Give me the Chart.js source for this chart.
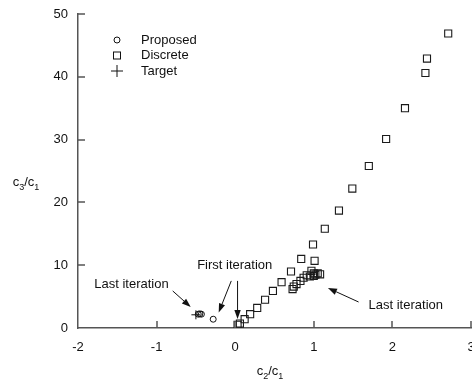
<!DOCTYPE html>
<html><head><meta charset="utf-8">
<script src="https://cdn.jsdelivr.net/npm/chart.js@4.4.1/dist/chart.umd.min.js"></script>
<style>html,body{margin:0;padding:0;background:#fff}#wrap{width:472px;height:382px}</style>
</head><body><div id="wrap"><canvas id="c" width="472" height="382"></canvas></div>
<script>
// ---- data ----
const xTicks = [-2, -1, 0, 1, 2, 3];
const yTicks = [0, 10, 20, 30, 40, 50];
const proposedX = [-0.47, -0.45, -0.43, -0.28];
const proposedY = [2.2, 2.25, 2.2, 1.4];
const discreteX = [0.03, 0.06, 0.12, 0.19, 0.28, 0.38, 0.48, 0.59, 0.71, 0.84, 0.99, 1.14, 1.32, 1.49, 1.70, 1.92, 2.16, 2.42, 2.44, 2.71,
                   1.01, 0.73, 0.745, 0.78, 0.83, 0.87, 0.91, 0.95, 0.97, 1.00, 1.02, 1.08, 1.00, 1.05];
const discreteY = [0.5, 0.7, 1.4, 2.2, 3.2, 4.5, 5.9, 7.3, 9.0, 11.0, 13.3, 15.8, 18.7, 22.2, 25.8, 30.1, 35.0, 40.6, 42.9, 46.9,
                   10.7, 6.2, 6.6, 7.0, 7.5, 8.0, 8.4, 8.2, 9.1, 8.7, 8.5, 8.55, 8.3, 8.7];
const targetX = [-0.5];
const targetY = [2.1];
const legendLabels = ['Proposed', 'Discrete', 'Target'];
// annotations: text anchor and arrows in data units
const notes = [
  {text: 'Last iteration', x: -1.32, y: 7.0, arrows: [[-0.795, 5.9, -0.566, 3.34]]},
  {text: 'First iteration', x: -0.006, y: 10.0, arrows: [[-0.05, 7.5, -0.21, 2.47], [0.03, 7.5, 0.03, 1.43]]},
  {text: 'Last iteration', x: 2.17, y: 3.66, arrows: [[1.57, 4.14, 1.18, 6.37]]}
];

const pts = (xs, ys) => xs.map((x, i) => ({x, y: ys[i]}));
const FONT = '13px "Liberation Sans", Arial, sans-serif';
const SUB = '9px "Liberation Sans", Arial, sans-serif';

function drawSubText(ctx, x, y, parts) {
  ctx.textBaseline = 'middle';
  ctx.textAlign = 'left';
  let total = 0;
  parts.forEach(([t, s]) => { ctx.font = s ? SUB : FONT; total += ctx.measureText(t).width; });
  let cx = x - total / 2;
  parts.forEach(([t, s]) => {
    ctx.font = s ? SUB : FONT;
    ctx.fillText(t, cx, s ? y + 6 : y);
    cx += ctx.measureText(t).width;
  });
}

function arrow(ctx, x1, y1, x2, y2) {
  const ang = Math.atan2(y2 - y1, x2 - x1);
  const hl = 9, hw = 3.2;
  const bx = x2 - hl * Math.cos(ang), by = y2 - hl * Math.sin(ang);
  ctx.beginPath(); ctx.moveTo(x1, y1); ctx.lineTo(bx, by); ctx.lineWidth = 1; ctx.stroke();
  ctx.beginPath();
  ctx.moveTo(x2, y2);
  ctx.lineTo(bx + hw * Math.sin(ang), by - hw * Math.cos(ang));
  ctx.lineTo(bx - hw * Math.sin(ang), by + hw * Math.cos(ang));
  ctx.closePath(); ctx.fill();
}

const extras = {
  id: 'extras',
  afterDraw(chart) {
    const {ctx, scales: {x, y}, chartArea: a} = chart;
    ctx.save();
    // inward ticks
    ctx.strokeStyle = '#555'; ctx.lineWidth = 1.5;
    xTicks.forEach(v => { const px = Math.round(x.getPixelForValue(v)); if (v === xTicks[0]) return;
      ctx.beginPath(); ctx.moveTo(px, a.bottom); ctx.lineTo(px, a.bottom - 7); ctx.stroke(); });
    yTicks.forEach(v => { const py = Math.round(y.getPixelForValue(v)); if (v === yTicks[0]) return;
      ctx.beginPath(); ctx.moveTo(a.left, py); ctx.lineTo(a.left + 7, py); ctx.stroke(); });
    // axis titles
    ctx.fillStyle = '#111';
    drawSubText(ctx, 270, 371, [['c', false], ['2', true], ['/c', false], ['1', true]]);
    drawSubText(ctx, 26, 182, [['c', false], ['3', true], ['/c', false], ['1', true]]);
    // legend
    const lx = 117, ly = [40, 55.5, 71];
    ctx.strokeStyle = '#111'; ctx.lineWidth = 1;
    ctx.beginPath(); ctx.arc(lx, ly[0], 3, 0, Math.PI * 2); ctx.stroke();
    ctx.strokeRect(lx - 3.5, ly[1] - 3.5, 7, 7);
    ctx.beginPath(); ctx.moveTo(lx - 6, ly[2]); ctx.lineTo(lx + 6, ly[2]); ctx.moveTo(lx, ly[2] - 6); ctx.lineTo(lx, ly[2] + 6); ctx.stroke();
    ctx.font = FONT; ctx.textAlign = 'left'; ctx.textBaseline = 'middle'; ctx.fillStyle = '#111';
    legendLabels.forEach((t, i) => ctx.fillText(t, 141, ly[i]));
    // annotations
    ctx.fillStyle = '#111'; ctx.strokeStyle = '#111';
    notes.forEach(n => {
      ctx.font = FONT; ctx.textAlign = 'center'; ctx.textBaseline = 'middle';
      ctx.fillText(n.text, x.getPixelForValue(n.x), y.getPixelForValue(n.y));
      n.arrows.forEach(([x1, y1, x2, y2]) => arrow(ctx,
        x.getPixelForValue(x1), y.getPixelForValue(y1), x.getPixelForValue(x2), y.getPixelForValue(y2)));
    });
    ctx.restore();
  }
};

function fixX(s) { s.height = 54; s.paddingLeft = 0; s.paddingRight = 0; }
function fixY(s) { s.width = 78; s.paddingTop = 0; s.paddingBottom = 0; }

new Chart(document.getElementById('c'), {
  type: 'scatter',
  data: {
    datasets: [
      {label: 'Proposed', data: pts(proposedX, proposedY), pointStyle: 'circle', radius: 3,
       borderColor: '#111', backgroundColor: 'rgba(0,0,0,0)', borderWidth: 1},
      {label: 'Discrete', data: pts(discreteX, discreteY), pointStyle: 'rect', radius: 5,
       borderColor: '#1a1a1a', backgroundColor: 'rgba(0,0,0,0)', borderWidth: 1.1},
      {label: 'Target', data: pts(targetX, targetY), pointStyle: 'cross', radius: 4.5,
       borderColor: '#111', borderWidth: 1}
    ]
  },
  options: {
    responsive: false, animation: false, devicePixelRatio: 1,
    layout: {autoPadding: false, padding: {top: 14, right: 1, left: 0, bottom: 0}},
    plugins: {legend: {display: false}, tooltip: {enabled: false}},
    scales: {
      x: {type: 'linear', min: -2, max: 3, afterFit: fixX,
          afterBuildTicks: s => { s.ticks = xTicks.map(v => ({value: v})); },
          grid: {display: false, drawTicks: false},
          border: {display: true, color: '#555', width: 1.5},
          ticks: {padding: 12, color: '#111', font: {family: '"Liberation Sans", Arial, sans-serif', size: 13},
                  maxRotation: 0, autoSkip: false}},
      y: {type: 'linear', min: 0, max: 50, afterFit: fixY,
          afterBuildTicks: s => { s.ticks = yTicks.map(v => ({value: v})); },
          grid: {display: false, drawTicks: false},
          border: {display: true, color: '#555', width: 1.5},
          ticks: {padding: 10, color: '#111', font: {family: '"Liberation Sans", Arial, sans-serif', size: 13}}}
    }
  },
  plugins: [extras]
});
</script></body></html>
